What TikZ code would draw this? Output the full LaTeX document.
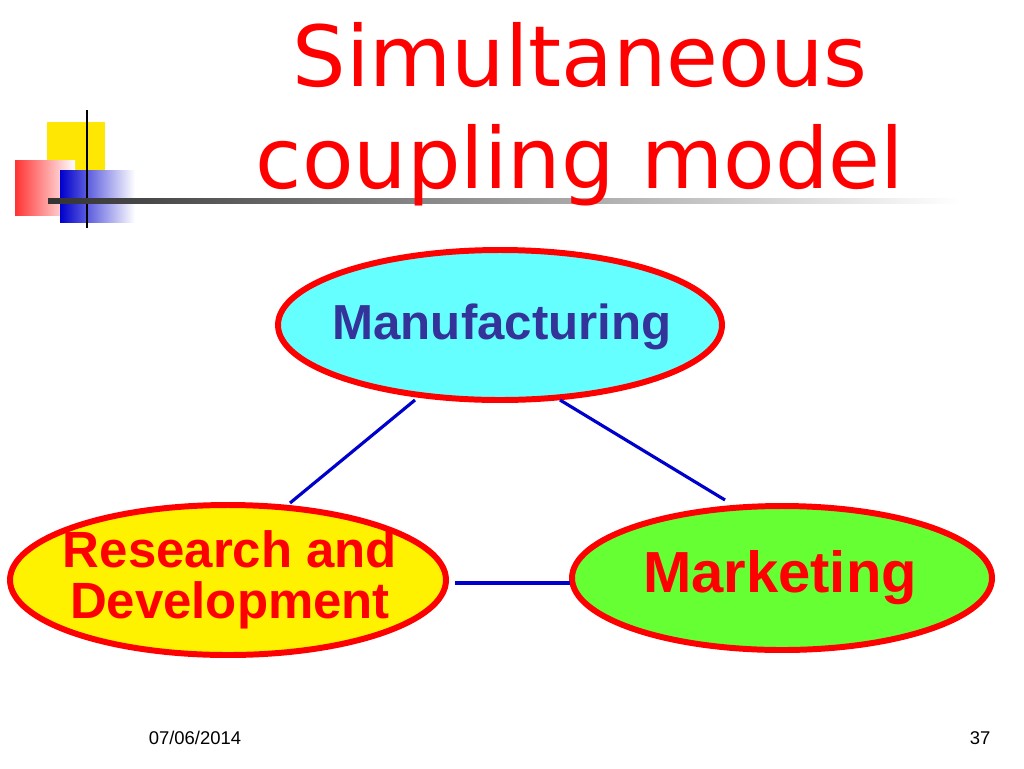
\documentclass[tikz,border=0pt]{standalone}
\usepackage{fontspec}
\setmainfont{Liberation Sans}
\newfontfamily\titlefont{DejaVu Sans}
\definecolor{mcyan}{HTML}{66FFFF}
\definecolor{mgreen}{HTML}{66FF33}
\definecolor{mblue}{HTML}{333399}
\definecolor{cblue}{HTML}{0000CC}
\begin{document}
\begin{tikzpicture}[x=0.02cm,y=-0.02cm,
  conn/.style={draw=cblue,line width=1.8pt}]
\useasboundingbox (0,0) rectangle (1024,768);
\fill[white] (0,0) rectangle (1024,768);
% logo
\fill[yellow!90!orange] (47,122) rectangle (105,180);
\shade[left color=red!80, right color=white] (15,160) rectangle (75,215);
\shade[left color=blue!80!black, right color=white] (60,170) rectangle (135,222);
\draw[line width=1.5pt] (87,110) -- (87,228);
\shade[left color=black!80, right color=white] (48,198) rectangle (960,203);
% title
\node[text=red,font=\titlefont\fontsize{48}{54}\selectfont] (t1) at (580,55) {Simultaneous};
\node[text=red,font=\titlefont\fontsize{48}{54}\selectfont] (t2) at (580,165) {coupling model};
% ellipses
\draw[draw=red,line width=3.4pt,fill=mcyan] (500,325) ellipse (222 and 75);
\node[text=mblue,font=\bfseries\fontsize{28}{30}\selectfont] (m) at (502,327) {Manufacturing};
\draw[draw=red,line width=3.4pt,fill=yellow] (228,580) ellipse (218 and 75);
\node[text=red,font=\bfseries\fontsize{29}{29}\selectfont,align=center] (rd) at (230,580) {Research and\\Development};
\draw[draw=red,line width=3.4pt,fill=mgreen] (782,578) ellipse (210 and 72);
\node[text=red,font=\bfseries\fontsize{33}{36}\selectfont] (mk) at (780,578) {Marketing};
% connectors
\coordinate (a1) at (415,400); \coordinate (a2) at (290,503);
\coordinate (b1) at (560,400); \coordinate (b2) at (725,500);
\coordinate (c1) at (455,583); \coordinate (c2) at (570,583);
\draw[conn] (a1) -- (a2);
\draw[conn] (b1) -- (b2);
\draw[conn] (c1) -- (c2);
% footer
\node[font=\fontsize{10.5}{12}\selectfont] (d) at (195,738) {07/06/2014};
\node[font=\fontsize{10.5}{12}\selectfont] (p) at (980,738) {37};
\end{tikzpicture}
\end{document}
